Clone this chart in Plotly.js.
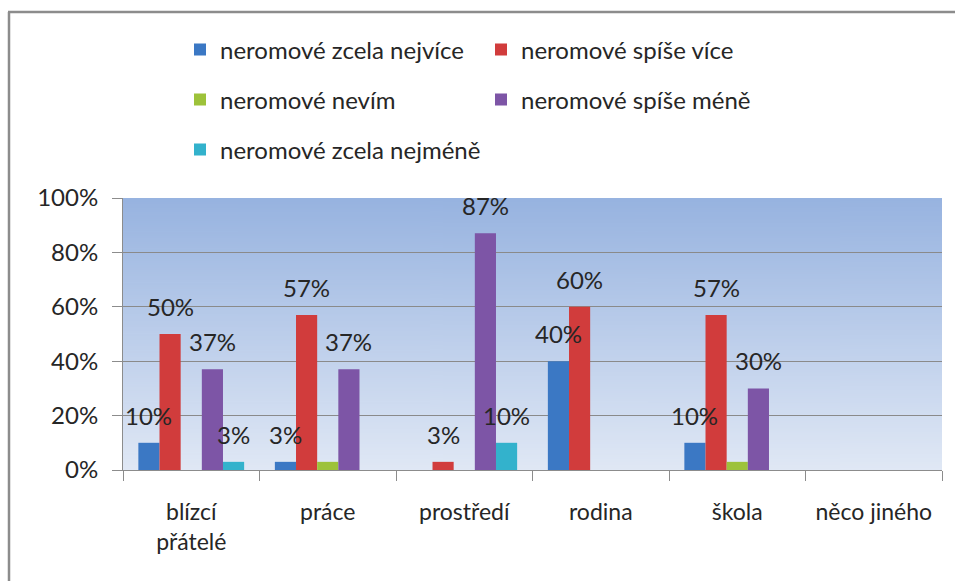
<!DOCTYPE html>
<html>
<head>
<meta charset="utf-8">
<script src="https://cdn.plot.ly/plotly-3.0.1.min.js"></script>
<style>html,body{margin:0;padding:0;background:#fff;}#chart{width:955px;height:581px;}</style>
</head>
<body>
<div id="chart"></div>
<script>
// ---- data ----
const categories = ['blízcí<br>přátelé', 'práce', 'prostředí', 'rodina', 'škola', 'něco jiného'];
const seriesNames = ['neromové zcela nejvíce', 'neromové spíše více', 'neromové nevím', 'neromové spíše méně', 'neromové zcela nejméně'];
const zcelaNejvice = [10, 3, 0, 40, 10, 0];
const spiseVice    = [50, 57, 3, 60, 57, 0];
const nevim        = [0, 3, 0, 0, 3, 0];
const spiseMene    = [37, 37, 87, 0, 30, 0];
const zcelaNejmene = [3, 0, 10, 0, 0, 0];
const yTicks = [0, 20, 40, 60, 80, 100];
const showLabels = [true, true, false, true, true];

// ---- style ----
const colors = ['#3b78c4', '#d13c3c', '#9dc23a', '#7d55a6', '#33b2cc'];
const legendOf = ['legend', 'legend', 'legend2', 'legend2', 'legend3'];
const FONT = 'Lato, "Open Sans", sans-serif';
const TXT = '#262626';

const allSeries = [zcelaNejvice, spiseVice, nevim, spiseMene, zcelaNejmene];

const W = 955, H = 581, ML = 123, MR = 13, MT = 198, MB = 111;
const PW = W - ML - MR, PH = H - MT - MB;
const bargap = 0.225;
const px2x = p => (p - ML) / PW;
const py2y = p => (H - MB - p) / PH;

const traces = allSeries.map((vals, i) => ({
  type: 'bar',
  name: seriesNames[i],
  x: categories,
  y: vals,
  marker: {color: colors[i], line: {width: 0}},
  legend: legendOf[i],
  hoverinfo: 'x+y+name'
}));

// data labels placed through the axes
const barW = (PW / categories.length) * (1 - bargap) / allSeries.length;
const annotations = [];
allSeries.forEach((vals, i) => {
  if (!showLabels[i]) return;
  vals.forEach((v, j) => {
    if (v === 0) return;
    annotations.push({
      x: categories[j], y: v, xref: 'x', yref: 'y',
      text: v + '%', showarrow: false,
      xanchor: 'center', yanchor: 'bottom',
      xshift: (i - (allSeries.length - 1) / 2) * barW,
      yshift: 11,
      font: {family: FONT, size: 24, color: TXT}
    });
  });
});

// gradient background for plot area
const cv = document.createElement('canvas');
cv.width = 4; cv.height = 256;
const ctx = cv.getContext('2d');
const g = ctx.createLinearGradient(0, 0, 0, 256);
g.addColorStop(0, '#97b3e0');
g.addColorStop(1, '#e0e8f5');
ctx.fillStyle = g; ctx.fillRect(0, 0, 4, 256);
const bgURL = cv.toDataURL();

const legendCommon = {
  orientation: 'h', xref: 'paper', yref: 'paper', xanchor: 'left', yanchor: 'middle',
  font: {family: FONT, size: 24, color: TXT}, bgcolor: 'rgba(0,0,0,0)',
  entrywidth: 256, itemclick: false, itemdoubleclick: false
};

const layout = {
  width: W, height: H,
  margin: {l: ML, r: MR, t: MT, b: MB, pad: 0},
  paper_bgcolor: '#ffffff',
  plot_bgcolor: 'rgba(0,0,0,0)',
  barmode: 'group', bargap: bargap, bargroupgap: 0,
  font: {family: FONT, size: 22, color: TXT},
  xaxis: {
    type: 'category', showline: true, linecolor: '#8c8c8c', linewidth: 1,
    ticks: 'outside', tickson: 'boundaries', ticklen: 10, tickcolor: '#8c8c8c',
    ticklabelstandoff: 21, showgrid: false, fixedrange: true,
    tickfont: {family: FONT, size: 23, color: TXT}
  },
  yaxis: {
    range: [0, 100], tickvals: yTicks, ticktext: yTicks.map(v => v + '%'),
    showline: true, linecolor: '#8c8c8c', linewidth: 1,
    ticks: 'outside', ticklen: 10, tickcolor: '#8c8c8c', ticklabelstandoff: 9,
    showgrid: true, gridcolor: '#8a8a8a', gridwidth: 1, zeroline: false, fixedrange: true,
    tickfont: {family: FONT, size: 24, color: TXT}
  },
  showlegend: true,
  legend:  Object.assign({}, legendCommon, {x: px2x(180), y: py2y(50)}),
  legend2: Object.assign({}, legendCommon, {x: px2x(180), y: py2y(100)}),
  legend3: Object.assign({}, legendCommon, {x: px2x(180), y: py2y(150)}),
  annotations: annotations,
  images: [{source: bgURL, xref: 'paper', yref: 'paper', x: 0, y: 1, sizex: 1, sizey: 1,
            sizing: 'stretch', xanchor: 'left', yanchor: 'top', layer: 'below'}],
  shapes: [
    {type: 'line', xref: 'paper', yref: 'paper', x0: px2x(9), x1: px2x(9), y0: py2y(12), y1: py2y(590),
     line: {color: '#8c8c8c', width: 2.5}},
    {type: 'line', xref: 'paper', yref: 'paper', x0: px2x(8), x1: px2x(960), y0: py2y(12), y1: py2y(12),
     line: {color: '#8c8c8c', width: 2.5}}
  ]
};

Plotly.newPlot('chart', traces, layout, {displayModeBar: false, staticPlot: false});
</script>
</body>
</html>
